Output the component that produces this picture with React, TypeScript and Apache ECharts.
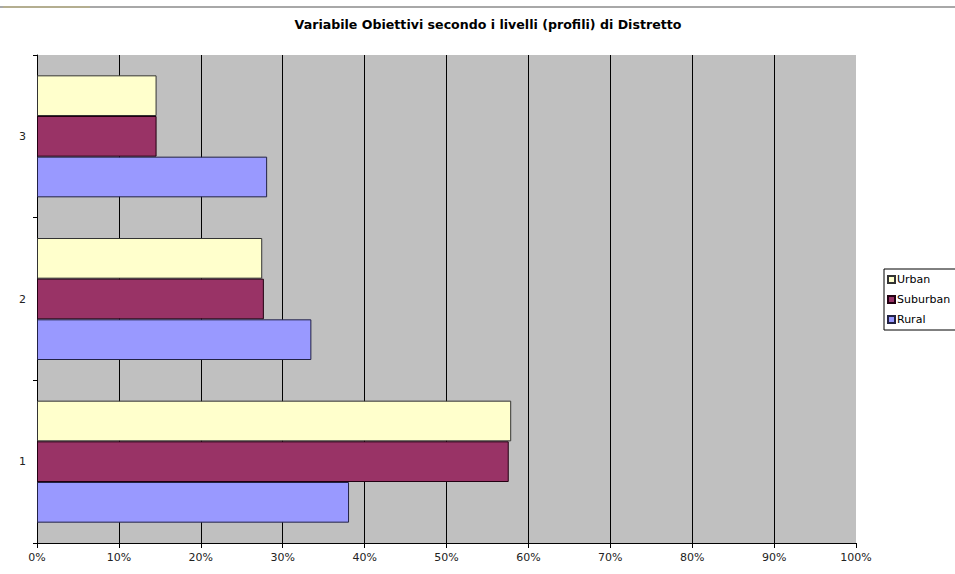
import React, { useEffect, useRef } from "react";
import * as echarts from "echarts";

const categories = ["1", "2", "3"];
const urban = [57.9, 27.5, 14.6];
const suburban = [57.6, 27.7, 14.6];
const rural = [38.1, 33.5, 28.1];
const xTicks = [0, 10, 20, 30, 40, 50, 60, 70, 80, 90, 100];

const FONT = "DejaVu Sans, Verdana, sans-serif";

export default function App() {
  const ref = useRef<HTMLDivElement>(null);

  useEffect(() => {
    if (!ref.current) return;
    const chart = echarts.init(ref.current, undefined, { renderer: "svg" });

    // vertical gridlines at every 10%, none on the right edge
    const gridColors = xTicks.map((v) => (v === 100 ? "rgba(0,0,0,0)" : "#000"));

    const barStyle = (color: string, border: string) => ({
      color,
      borderColor: border,
      borderWidth: 1,
    });

    chart.setOption({
      animation: false,
      backgroundColor: "#ffffff",
      textStyle: { fontFamily: FONT },
      title: {
        text: "Variabile Obiettivi secondo i livelli (profili) di Distretto",
        left: 483,
        top: 13,
        textAlign: "center",
        textStyle: { fontSize: 12.6, fontWeight: "bold", color: "#000", fontFamily: FONT },
      },
      graphic: [
        {
          type: "line",
          shape: { x1: 0, y1: 7, x2: 955, y2: 7 },
          style: { stroke: "#a8a8a8", lineWidth: 2 },
        },
        {
          type: "line",
          shape: { x1: 3, y1: 7, x2: 90, y2: 7 },
          style: { stroke: "#b4ae90", lineWidth: 2 },
        },
      ],
      legend: {
        orient: "vertical",
        left: 884,
        top: 269,
        data: ["Urban", "Suburban", "Rural"],
        icon: "rect",
        itemWidth: 7,
        itemHeight: 7,
        itemGap: 9,
        padding: [5, 6, 5, 3],
        backgroundColor: "#fff",
        borderColor: "#000",
        borderWidth: 1,
        textStyle: { fontSize: 11, color: "#000", fontFamily: FONT, padding: [0, 0, 0, -3] },
      },
      grid: {
        left: 37,
        right: 99,
        top: 55,
        bottom: 31,
        show: true,
        backgroundColor: "#c0c0c0",
        borderWidth: 0,
      },
      xAxis: {
        type: "value",
        min: 0,
        max: 100,
        interval: 10,
        axisLine: { show: true, lineStyle: { color: "#000", width: 1 } },
        axisTick: { show: true, length: 5, lineStyle: { color: "#000" } },
        axisLabel: { formatter: "{value}%", fontSize: 11, color: "#222", margin: 9, fontFamily: FONT },
        splitLine: { show: true, lineStyle: { color: gridColors, width: 1 } },
      },
      yAxis: {
        type: "category",
        data: categories,
        axisLine: { show: true, lineStyle: { color: "#000", width: 1 } },
        axisTick: { show: true, length: 4, lineStyle: { color: "#000" } },
        axisLabel: { fontSize: 11, color: "#222", margin: 11, fontFamily: FONT },
        splitLine: { show: false },
      },
      series: [
        {
          name: "Urban",
          type: "bar",
          data: urban,
          barGap: "0%",
          barCategoryGap: "25%",
          itemStyle: barStyle("#ffffcc", "#333333"),
        },
        {
          name: "Suburban",
          type: "bar",
          data: suburban,
          barGap: "0%",
          barCategoryGap: "25%",
          itemStyle: barStyle("#993366", "#220011"),
        },
        {
          name: "Rural",
          type: "bar",
          data: rural,
          barGap: "0%",
          barCategoryGap: "25%",
          itemStyle: barStyle("#9999ff", "#222244"),
        },
      ],
    });

    return () => chart.dispose();
  }, []);

  return (
    <div
      ref={ref}
      style={{ position: "fixed", left: 0, top: 0, width: 955, height: 574 }}
    />
  );
}
